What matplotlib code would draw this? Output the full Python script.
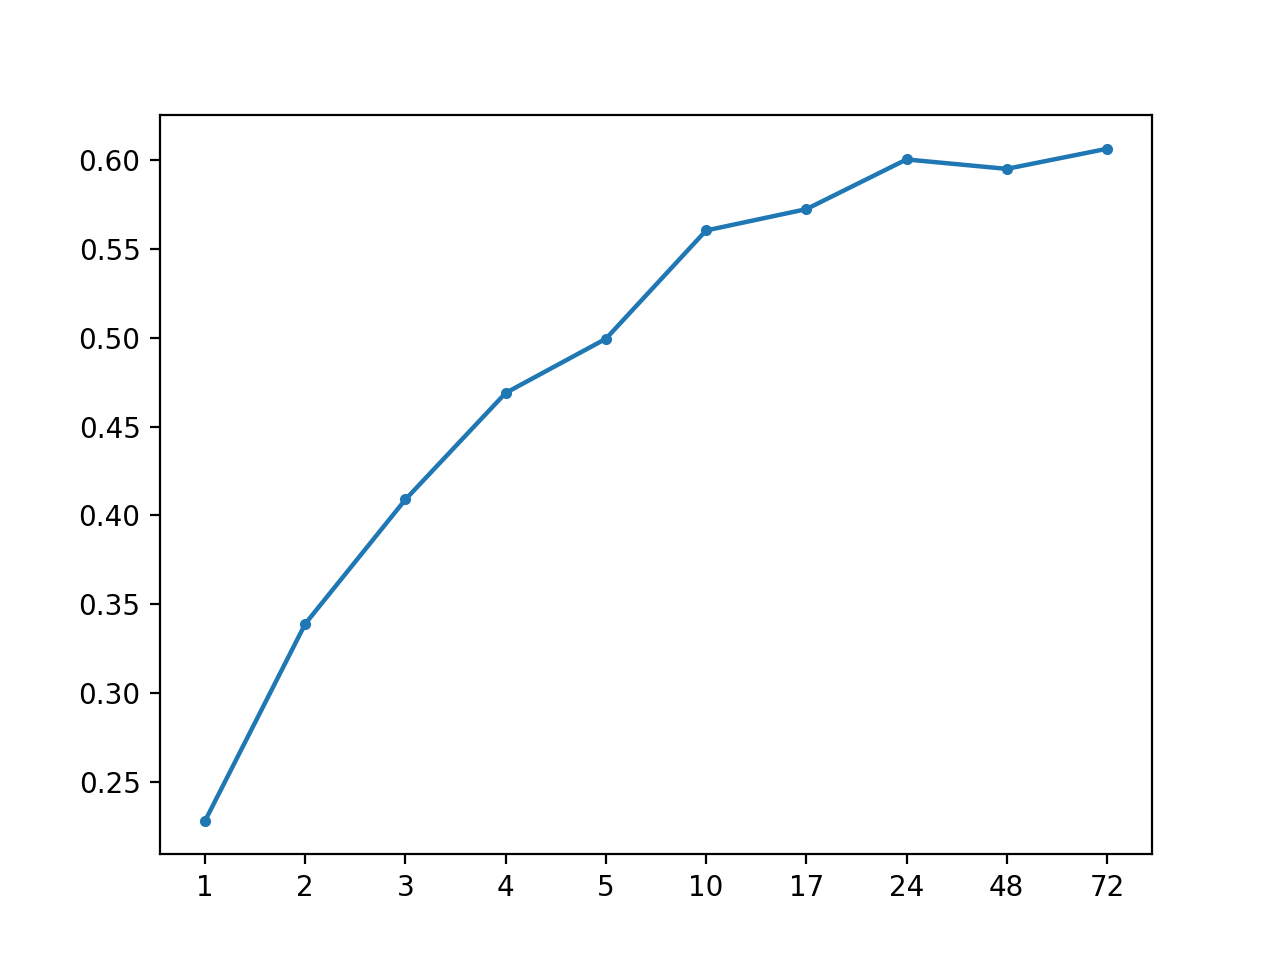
import matplotlib
matplotlib.use("Agg")
import matplotlib.pyplot as plt

hours = ["1", "2", "3", "4", "5", "10", "17", "24", "48", "72"]
scores = [0.228, 0.339, 0.409, 0.469, 0.4995, 0.5605, 0.5725, 0.6005, 0.5952, 0.6065]

fig = plt.figure(figsize=(6.4, 4.8), dpi=200)
ax = fig.add_subplot(111)
ax.plot(hours, scores, marker='.', linewidth=1.6)

fig.savefig("out.png")
